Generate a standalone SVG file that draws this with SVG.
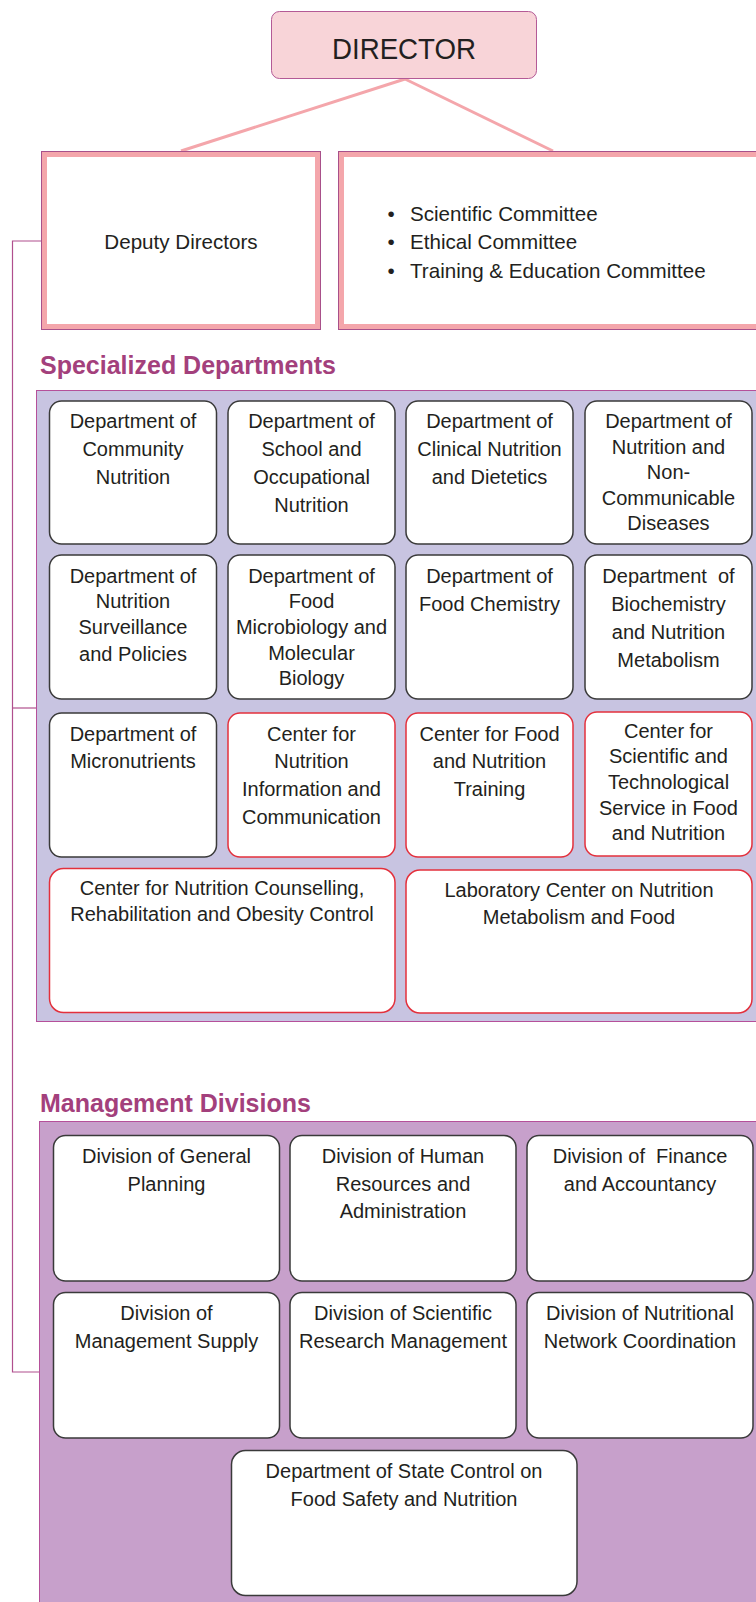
<svg xmlns="http://www.w3.org/2000/svg" width="756" height="1602" viewBox="0 0 756 1602">
<style>
  text { font-family: "Liberation Sans", Arial, sans-serif; fill: #231f20; }
  .t { font-size: 20px; text-anchor: middle; }
  .c { font-size: 20.6px; }
  .h { font-size: 25px; font-weight: bold; fill: #a3407c; }
  .dept { fill: #ffffff; stroke: #3a3a3a; stroke-width: 1.5; }
  .ctr { fill: #ffffff; stroke: #e3303c; stroke-width: 1.5; }
  .div { fill: #ffffff; stroke: #3a3a3a; stroke-width: 1.5; }
  .outer { fill: none; stroke: #a8508a; stroke-width: 1; }
  .inner { fill: #ffffff; stroke: #f4a6ab; stroke-width: 5; }
  .pink { stroke: #f4a6ab; stroke-width: 3; fill: none; }
  .tree { stroke: #b04f8e; stroke-width: 1.2; fill: none; }
</style>

<!-- panels -->
<rect x="36.5" y="390.5" width="730" height="631" fill="#c8c4e1" stroke="#b5509a" stroke-width="1"/>
<rect x="39.5" y="1121.5" width="730" height="500" fill="#c7a0cb" stroke="#b5509a" stroke-width="1"/>

<text class="h" x="40" y="374">Specialized Departments</text>
<text class="h" x="40" y="1112">Management Divisions</text>

<g id="connectors">
  <path class="pink" d="M405 79 L181 151"/>
  <path class="pink" d="M405 79 L553 151"/>
  <path class="tree" d="M41 241 H12.5 V1372 H39"/>
  <path class="tree" d="M12.5 708 H36"/>
</g>

<g id="director">
  <rect x="271.5" y="11.5" width="265" height="67" rx="8" fill="#f8d4d8" stroke="#b45a96" stroke-width="1"/>
  <text x="404" y="59" font-size="30" text-anchor="middle" textLength="144" lengthAdjust="spacingAndGlyphs">DIRECTOR</text>
</g>

<g id="deputy">
  <rect class="inner" x="44.5" y="154.5" width="273" height="172"/>
  <rect class="outer" x="41.5" y="151.5" width="279" height="178"/>
  <text class="t c" x="181" y="249">Deputy Directors</text>
</g>

<g id="committees">
  <rect class="inner" x="341.5" y="154.5" width="430" height="172"/>
  <rect class="outer" x="338.5" y="151.5" width="436" height="178"/>
  <text class="c" x="391" y="221" text-anchor="middle">•</text>
  <text class="c" x="391" y="249" text-anchor="middle">•</text>
  <text class="c" x="391" y="278" text-anchor="middle">•</text>
  <text class="c" x="410" y="221">Scientific Committee</text>
  <text class="c" x="410" y="249">Ethical Committee</text>
  <text class="c" x="410" y="278">Training &amp; Education Committee</text>
</g>

<!-- Specialized departments row 1 -->
<g id="d-community">
  <rect class="dept" x="49.5" y="401" width="167" height="143" rx="12"/>
  <text class="t" x="133" y="428">Department of</text>
  <text class="t" x="133" y="456">Community</text>
  <text class="t" x="133" y="484">Nutrition</text>
</g>
<g id="d-school">
  <rect class="dept" x="228" y="401" width="167" height="143" rx="12"/>
  <text class="t" x="311.5" y="428">Department of</text>
  <text class="t" x="311.5" y="456">School and</text>
  <text class="t" x="311.5" y="484">Occupational</text>
  <text class="t" x="311.5" y="512">Nutrition</text>
</g>
<g id="d-clinical">
  <rect class="dept" x="406" y="401" width="167" height="143" rx="12"/>
  <text class="t" x="489.5" y="428">Department of</text>
  <text class="t" x="489.5" y="456">Clinical Nutrition</text>
  <text class="t" x="489.5" y="484">and Dietetics</text>
</g>
<g id="d-ncd">
  <rect class="dept" x="585" y="401" width="167" height="143" rx="12"/>
  <text class="t" x="668.5" y="428">Department of</text>
  <text class="t" x="668.5" y="454">Nutrition and</text>
  <text class="t" x="668.5" y="479">Non-</text>
  <text class="t" x="668.5" y="505">Communicable</text>
  <text class="t" x="668.5" y="530">Diseases</text>
</g>

<!-- row 2 -->
<g id="d-surveillance">
  <rect class="dept" x="49.5" y="555" width="167" height="144" rx="12"/>
  <text class="t" x="133" y="583">Department of</text>
  <text class="t" x="133" y="608">Nutrition</text>
  <text class="t" x="133" y="634">Surveillance</text>
  <text class="t" x="133" y="661">and Policies</text>
</g>
<g id="d-microbiology">
  <rect class="dept" x="228" y="555" width="167" height="144" rx="12"/>
  <text class="t" x="311.5" y="583">Department of</text>
  <text class="t" x="311.5" y="608">Food</text>
  <text class="t" x="311.5" y="634">Microbiology and</text>
  <text class="t" x="311.5" y="660">Molecular</text>
  <text class="t" x="311.5" y="685">Biology</text>
</g>
<g id="d-chemistry">
  <rect class="dept" x="406" y="555" width="167" height="144" rx="12"/>
  <text class="t" x="489.5" y="583">Department of</text>
  <text class="t" x="489.5" y="611">Food Chemistry</text>
</g>
<g id="d-biochemistry">
  <rect class="dept" x="585" y="555" width="167" height="144" rx="12"/>
  <text class="t" x="668.5" y="583" xml:space="preserve">Department  of</text>
  <text class="t" x="668.5" y="611">Biochemistry</text>
  <text class="t" x="668.5" y="639">and Nutrition</text>
  <text class="t" x="668.5" y="667">Metabolism</text>
</g>

<!-- row 3 -->
<g id="d-micronutrients">
  <rect class="dept" x="49.5" y="713" width="167" height="144" rx="12"/>
  <text class="t" x="133" y="741">Department of</text>
  <text class="t" x="133" y="768">Micronutrients</text>
</g>
<g id="c-information">
  <rect class="ctr" x="228" y="713" width="167" height="144" rx="12"/>
  <text class="t" x="311.5" y="741">Center for</text>
  <text class="t" x="311.5" y="768">Nutrition</text>
  <text class="t" x="311.5" y="796">Information and</text>
  <text class="t" x="311.5" y="824">Communication</text>
</g>
<g id="c-training">
  <rect class="ctr" x="406" y="713" width="167" height="144" rx="12"/>
  <text class="t" x="489.5" y="741">Center for Food</text>
  <text class="t" x="489.5" y="768">and Nutrition</text>
  <text class="t" x="489.5" y="796">Training</text>
</g>
<g id="c-service">
  <rect class="ctr" x="585" y="712" width="167" height="144" rx="12"/>
  <text class="t" x="668.5" y="738">Center for</text>
  <text class="t" x="668.5" y="763">Scientific and</text>
  <text class="t" x="668.5" y="789">Technological</text>
  <text class="t" x="668.5" y="815">Service in Food</text>
  <text class="t" x="668.5" y="840">and Nutrition</text>
</g>

<!-- row 4 -->
<g id="c-counselling">
  <rect class="ctr" x="49.5" y="868.5" width="345.5" height="144" rx="14"/>
  <text class="t" x="222" y="895">Center for Nutrition Counselling,</text>
  <text class="t" x="222" y="921">Rehabilitation and Obesity Control</text>
</g>
<g id="c-laboratory">
  <rect class="ctr" x="406" y="870" width="346" height="143" rx="14"/>
  <text class="t" x="579" y="897">Laboratory Center on Nutrition</text>
  <text class="t" x="579" y="924">Metabolism and Food</text>
</g>

<!-- Management divisions -->
<g id="v-planning">
  <rect class="div" x="53.5" y="1135.5" width="226" height="145.5" rx="12"/>
  <text class="t" x="166.5" y="1163">Division of General</text>
  <text class="t" x="166.5" y="1191">Planning</text>
</g>
<g id="v-hr">
  <rect class="div" x="290" y="1135.5" width="226" height="145.5" rx="12"/>
  <text class="t" x="403" y="1163">Division of Human</text>
  <text class="t" x="403" y="1191">Resources and</text>
  <text class="t" x="403" y="1218">Administration</text>
</g>
<g id="v-finance">
  <rect class="div" x="527" y="1135.5" width="226" height="145.5" rx="12"/>
  <text class="t" x="640" y="1163" xml:space="preserve">Division of  Finance</text>
  <text class="t" x="640" y="1191">and Accountancy</text>
</g>
<g id="v-supply">
  <rect class="div" x="53.5" y="1292.5" width="226" height="145.5" rx="12"/>
  <text class="t" x="166.5" y="1320">Division of</text>
  <text class="t" x="166.5" y="1348">Management Supply</text>
</g>
<g id="v-research">
  <rect class="div" x="290" y="1292.5" width="226" height="145.5" rx="12"/>
  <text class="t" x="403" y="1320">Division of Scientific</text>
  <text class="t" x="403" y="1348">Research Management</text>
</g>
<g id="v-network">
  <rect class="div" x="527" y="1292.5" width="226" height="145.5" rx="12"/>
  <text class="t" x="640" y="1320">Division of Nutritional</text>
  <text class="t" x="640" y="1348">Network Coordination</text>
</g>
<g id="v-statecontrol">
  <rect class="div" x="231.5" y="1450.5" width="345.5" height="145" rx="14"/>
  <text class="t" x="404" y="1478">Department of State Control on</text>
  <text class="t" x="404" y="1506">Food Safety and Nutrition</text>
</g>
</svg>
